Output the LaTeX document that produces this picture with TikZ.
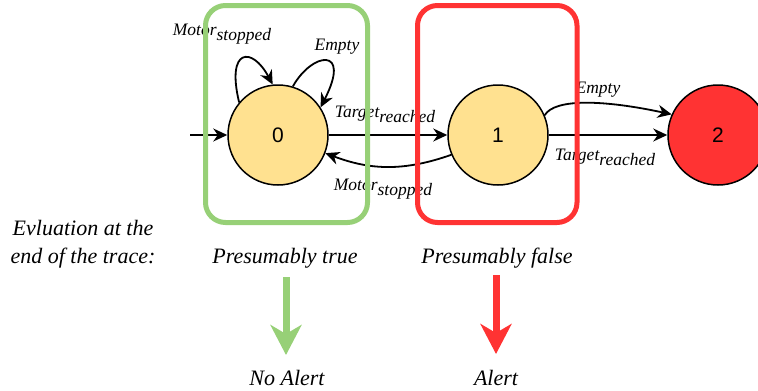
\documentclass[tikz,border=0pt]{standalone}
\usepackage{fontspec}
\setmainfont{Liberation Serif}[ItalicFont={Liberation Serif Italic}]
\newfontfamily\numfont{Liberation Sans}
\newfontfamily\serifit{Liberation Serif Italic}
\usetikzlibrary{arrows.meta}
\definecolor{stfill}{HTML}{FFE190}
\definecolor{gbox}{HTML}{97D077}
\definecolor{rbox}{HTML}{FF3333}
\newcommand\lsub[1]{\raisebox{-5pt}{#1}}
\begin{document}
\begin{tikzpicture}[x=1pt,y=1pt,
  state/.style={circle,draw=black,line width=1.5pt,minimum size=100pt,inner sep=0pt,font=\numfont\fontsize{21}{21}\selectfont},
  edge/.style={line width=1.8pt,-{Stealth[length=14pt,width=13pt]}},
  lbl/.style={font=\serifit\fontsize{17.5}{17.5}\selectfont,inner sep=0pt,anchor=base},
  big/.style={font=\serifit\fontsize{22}{22}\selectfont,inner sep=0pt,anchor=base},
  box/.style={rounded corners=20pt,line width=5pt},
  bigarrow/.style={line width=7pt,-{Stealth[length=30pt,width=31pt,inset=9pt]}}]
\useasboundingbox (0,0) rectangle (758,-391);
% states
\node[state,fill=stfill] (n0) at (278,-135) {0};
\node[state,fill=stfill] (n1) at (498,-135) {1};
\node[state,fill=rbox]   (n2) at (718,-135) {2};
\coordinate (init) at (190,-135);
% edges
\draw[edge] (init) -- (n0);
\draw[edge] (n0.140) .. controls (226,-48) and (252,-46) .. (n0.96);
\draw[edge] (n0.73) .. controls (312,-52) and (352,-46) .. (n0.33);
\draw[edge] (n0) -- (n1);
\draw[edge] (n1.203) to[bend left=20] (n0.-21);
\draw[edge] (n1) -- (n2);
\draw[edge] (n1.23) .. controls (555,-98) and (605,-100) .. (n2.156);
% edge labels
\node[lbl] (l1) at (222,-35) {Motor\lsub{stopped}};
\node[lbl] (l2) at (337,-50) {Empty};
\node[lbl] (l3) at (385,-117) {Target\lsub{reached}};
\node[lbl] (l4) at (383,-190) {Motor\lsub{stopped}};
\node[lbl] (l5) at (598,-93) {Empty};
\node[lbl] (l6) at (605,-160) {Target\lsub{reached}};
% boxes
\draw[box,gbox] (205.5,-5.5) rectangle (367.5,-222.5);
\draw[box,rbox] (417.5,-5.5) rectangle (577,-222.5);
% texts
\node[big] (e1) at (83,-235) {Evluation at the};
\node[big] (e2) at (83,-263) {end of the trace:};
\node[big] (pt) at (285,-263) {Presumably true};
\node[big] (pf) at (497,-263) {Presumably false};
% alert arrows
\coordinate (ga) at (286,-277);
\coordinate (gb) at (286,-355);
\coordinate (ra) at (496,-275);
\coordinate (rb) at (496,-354);
\draw[bigarrow,gbox] (ga) -- (gb);
\draw[bigarrow,rbox] (ra) -- (rb);
\node[big] (na) at (287,-385) {No Alert};
\node[big] (al) at (496,-385) {Alert};
\end{tikzpicture}
\end{document}
